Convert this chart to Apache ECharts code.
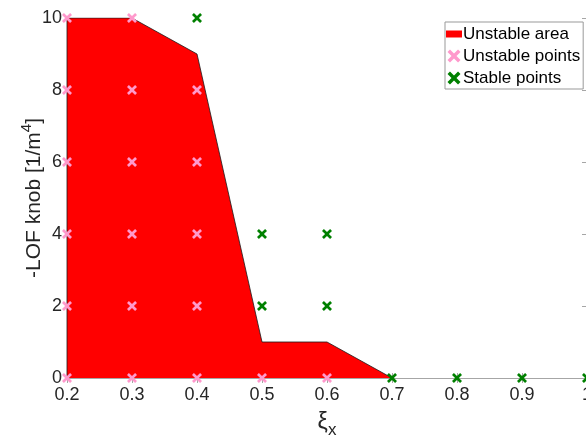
<!DOCTYPE html>
<html>
<head>
<meta charset="utf-8">
<script src="https://cdn.jsdelivr.net/npm/echarts@6/dist/echarts.min.js"></script>
<style>
html,body{margin:0;padding:0;background:#fff;}
#chart{width:586px;height:439px;}
</style>
</head>
<body>
<div id="chart"></div>
<script>
// Unstable area polygon (boundary)
var areaX = [0.2, 0.2, 0.3, 0.4, 0.5, 0.6, 0.7];
var areaY = [0, 10, 10, 9, 1, 1, 0];

// Unstable points
var unstableX = [0.2,0.2,0.2,0.2,0.2,0.2, 0.3,0.3,0.3,0.3,0.3,0.3, 0.4,0.4,0.4,0.4,0.4, 0.5, 0.6];
var unstableY = [0,2,4,6,8,10, 0,2,4,6,8,10, 0,2,4,6,8, 0, 0];

// Stable points
var stableX = [0.4, 0.5, 0.5, 0.6, 0.6, 0.7, 0.8, 0.9, 1.0];
var stableY = [10, 4, 2, 4, 2, 0, 0, 0, 0];

var xTicks = [0.2, 0.3, 0.4, 0.5, 0.6, 0.7, 0.8, 0.9, 1];
var yTicks = [0, 2, 4, 6, 8, 10];

function zip(a, b) { return a.map(function (v, i) { return [v, b[i]]; }); }

var FONT = "'Liberation Sans', Arial, Helvetica, sans-serif";
var AX = '#a6a6a6';
var TXT = '#262626';
var CROSS = 'path://M0,1.9 L1.9,0 L5,3.1 L8.1,0 L10,1.9 L6.9,5 L10,8.1 L8.1,10 L5,6.9 L1.9,10 L0,8.1 L3.1,5 Z';

var chart = echarts.init(document.getElementById('chart'), null, {renderer: 'canvas'});

function baseAxis(extra) {
  var o = {
    type: 'value',
    axisLine: {show: true, lineStyle: {color: AX, width: 1}},
    axisTick: {show: true, inside: true, length: 5, lineStyle: {color: AX}},
    splitLine: {show: false},
    axisLabel: {show: false}
  };
  for (var k in extra) o[k] = extra[k];
  return o;
}

var option = {
  animation: false,
  backgroundColor: '#fff',
  textStyle: {fontFamily: FONT},
  grid: {left: 67, top: 18, width: 520, height: 360, containLabel: false, outerBoundsMode: 'none'},
  xAxis: [
    baseAxis({
      position: 'bottom',
      min: xTicks[0], max: xTicks[xTicks.length - 1], interval: 0.1,
      axisLabel: {show: true, fontSize: 18, color: TXT, margin: 8, fontFamily: FONT,
        formatter: function (v) { return String(Math.round(v * 10) / 10); }},
      name: '{a|ξ}{b|x}',
      nameLocation: 'middle',
      nameGap: 33,
      nameMoveOverlap: false,
      nameTextStyle: {
        rich: {
          a: {fontSize: 23, lineHeight: 22, verticalAlign: 'top', color: TXT, fontFamily: FONT},
          b: {fontSize: 17, lineHeight: 28, verticalAlign: 'bottom', color: TXT, fontFamily: FONT}
        }
      }
    }),
    baseAxis({
      position: 'top',
      min: xTicks[0], max: xTicks[xTicks.length - 1], interval: 0.1
    })
  ],
  yAxis: [
    baseAxis({
      position: 'left',
      min: yTicks[0], max: yTicks[yTicks.length - 1], interval: 2,
      axisLabel: {show: true, fontSize: 18, color: TXT, margin: 5, fontFamily: FONT},
      name: '{m|-LOF knob [1/m}{s|4}{m|]}',
      nameLocation: 'middle',
      nameRotate: 90,
      nameGap: 22,
      nameMoveOverlap: false,
      nameTextStyle: {
        rich: {
          m: {fontSize: 21, lineHeight: 26, verticalAlign: 'bottom', color: TXT, fontFamily: FONT},
          s: {fontSize: 15, lineHeight: 15, verticalAlign: 'top', color: TXT, fontFamily: FONT}
        }
      }
    }),
    baseAxis({
      position: 'right',
      min: yTicks[0], max: yTicks[yTicks.length - 1], interval: 2
    })
  ],
  legend: {
    orient: 'vertical',
    left: 445,
    top: 22,
    padding: [1, 3, 0, 1],
    itemGap: 0,
    itemWidth: 16,
    itemHeight: 13,
    backgroundColor: '#fff',
    borderColor: '#999',
    borderWidth: 1,
    borderRadius: 0,
    symbolKeepAspect: true,
    textStyle: {fontSize: 17, color: '#000', lineHeight: 22, fontFamily: FONT, padding: [0, 0, 0, -4]},
    data: [
      {name: 'Unstable area', icon: 'path://M0,0 L16,0 L16,7 L0,7 Z', itemStyle: {color: '#ff0000', borderWidth: 0}},
      {name: 'Unstable points'},
      {name: 'Stable points'}
    ]
  },
  series: [
    {
      name: 'Unstable area',
      type: 'line',
      xAxisIndex: 0, yAxisIndex: 0,
      data: zip(areaX, areaY),
      symbol: 'none',
      color: '#ff0000',
      itemStyle: {color: '#ff0000'},
      lineStyle: {color: '#1a1a1a', width: 0.8},
      areaStyle: {color: '#ff0000', opacity: 1, origin: 'start'},
      z: 1
    },
    {
      name: 'Unstable points',
      type: 'scatter',
      xAxisIndex: 0, yAxisIndex: 0,
      data: zip(unstableX, unstableY),
      symbol: CROSS,
      symbolSize: 10,
      symbolKeepAspect: true,
      itemStyle: {color: '#ff99cc', opacity: 1},
      clip: false,
      z: 3
    },
    {
      name: 'Stable points',
      type: 'scatter',
      xAxisIndex: 0, yAxisIndex: 0,
      data: zip(stableX, stableY),
      symbol: CROSS,
      symbolSize: 10,
      symbolKeepAspect: true,
      itemStyle: {color: '#008000', opacity: 1},
      clip: false,
      z: 3
    }
  ]
};

chart.setOption(option);
</script>
</body>
</html>
